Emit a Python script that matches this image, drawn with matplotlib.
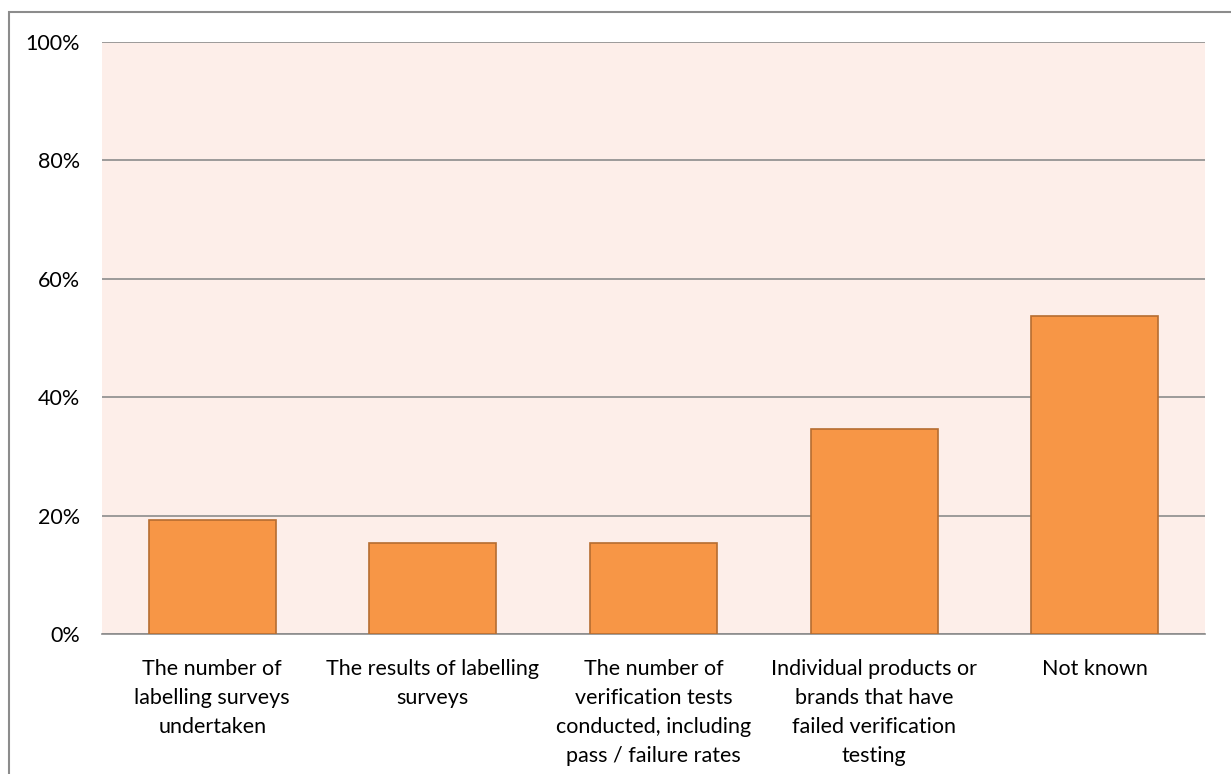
import matplotlib
matplotlib.use("Agg")
import matplotlib.pyplot as plt
from matplotlib.patches import Rectangle
from matplotlib.ticker import PercentFormatter

categories = [
    "The number of\nlabelling surveys\nundertaken",
    "The results of labelling\nsurveys",
    "The number of\nverification tests\nconducted, including\npass / failure rates",
    "Individual products or\nbrands that have\nfailed verification\ntesting",
    "Not known",
]
values = [19.2, 15.4, 15.4, 34.6, 53.8]
y_ticks = [0, 20, 40, 60, 80, 100]

BAR_COLOR = "#F79646"
EDGE_COLOR = "#B66D31"
BG_COLOR = "#FDEEE9"
GRID_COLOR = "#8C8C8C"

plt.rcParams["font.family"] = ["Lato", "DejaVu Sans"]

W, H = 1231, 774
fig = plt.figure(figsize=(W / 100, H / 100), dpi=100)
ax = fig.add_axes([102 / W, 1 - 634 / H, (1205 - 102) / W, (634 - 42) / H])

# outer chart border
fig.patches.append(Rectangle((9 / W, -0.01), 1.2, 1 - 12 / H + 0.01,
                             transform=fig.transFigure, fill=False,
                             edgecolor="#8C8C8C", lw=1.5))

ax.set_facecolor(BG_COLOR)
x = range(len(categories))
ax.bar(x, values, width=0.575, color=BAR_COLOR, edgecolor=EDGE_COLOR, lw=1.2, zorder=3)

ax.set_xlim(-0.5, len(categories) - 0.5)
ax.set_ylim(0, 100)
ax.set_yticks(y_ticks)
ax.yaxis.set_major_formatter(PercentFormatter(decimals=0))
ax.grid(axis="y", color=GRID_COLOR, lw=1.2, zorder=1)
ax.set_xticks(list(x))
ax.set_xticklabels(categories, fontsize=15.5, linespacing=1.56)

for s in ["top", "right", "left"]:
    ax.spines[s].set_visible(False)
ax.spines["bottom"].set_color(GRID_COLOR)
ax.spines["bottom"].set_linewidth(1.2)
ax.tick_params(axis="both", length=0, labelsize=15.5, colors="black")
ax.tick_params(axis="y", pad=16)
ax.tick_params(axis="x", pad=18)

plt.savefig("out.png", dpi=100)
